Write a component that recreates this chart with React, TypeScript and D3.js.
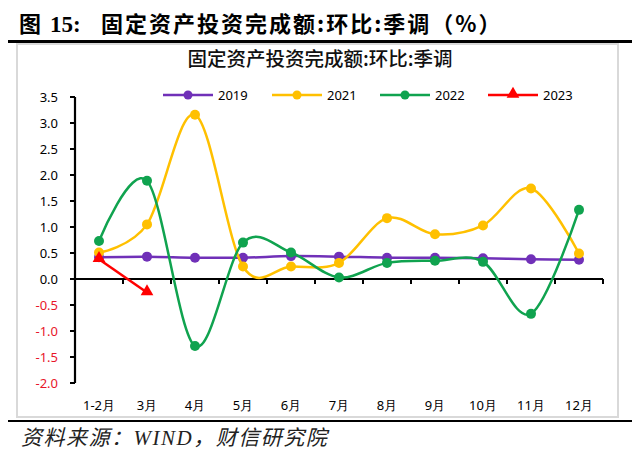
import React from "react";
import * as d3 from "d3";

const categories = ["1-2月", "3月", "4月", "5月", "6月", "7月", "8月", "9月", "10月", "11月", "12月"];
const s2019 = [0.42, 0.43, 0.41, 0.41, 0.44, 0.43, 0.41, 0.41, 0.40, 0.38, 0.37];
const s2021 = [0.51, 1.05, 3.16, 0.24, 0.24, 0.31, 1.17, 0.86, 1.03, 1.74, 0.49];
const s2022 = [0.73, 1.89, -1.29, 0.70, 0.51, 0.03, 0.31, 0.35, 0.33, -0.67, 1.33];
const s2023 = [0.38, -0.26];
const yTicks = [3.5, 3.0, 2.5, 2.0, 1.5, 1.0, 0.5, 0.0, -0.5, -1.0, -1.5, -2.0];

const seriesList = [
  { name: "2019", values: s2019, color: "#7030b8", marker: "circle", smooth: true },
  { name: "2021", values: s2021, color: "#ffc000", marker: "circle", smooth: true },
  { name: "2022", values: s2022, color: "#10a34f", marker: "circle", smooth: true },
  { name: "2023", values: s2023, color: "#ff0000", marker: "triangle", smooth: false },
];

export default function App() {
  const W = 640, H = 454;
  const x0 = 75, x1 = 603, yTop = 97, yBot = 383;
  const x = d3.scaleBand<string>().domain(categories).range([x0, x1]);
  const y = d3.scaleLinear().domain([-2, 3.5]).range([yBot, yTop]);
  const cx = (i: number) => (x(categories[i]) as number) + x.bandwidth() / 2;
  const tickFont = "'Noto Sans', 'Liberation Sans', sans-serif";
  const cjk = "'Noto Sans CJK SC', sans-serif";
  const tri = d3.symbol().type(d3.symbolTriangle).size(70);

  const legendX = [163, 272, 380, 488];

  return (
    <svg width={W} height={H} style={{ position: "absolute", left: 0, top: 0, background: "#fff" }}>
      <rect x={0} y={0} width={W} height={H} fill="#fff" />
      {/* heading */}
      <text y={32} fontSize={22} fontWeight="bold" fontFamily={cjk} fill="#000">
        <tspan x={19}>图</tspan>
        <tspan x={50} fontFamily="'Liberation Serif', serif" fontSize={23}>15:</tspan>
        <tspan x={101} letterSpacing={2}>固定资产投资完成额:环比:季调（%）</tspan>
      </text>
      <line x1={8} x2={632} y1={41.5} y2={41.5} stroke="#000" strokeWidth={3} />
      {/* frame */}
      <rect x={17} y={44} width={601} height={373} fill="#fff" stroke="#d9d9d9" strokeWidth={2} />
      <text x={320} y={66} textAnchor="middle" fontSize={19.5} fontFamily={cjk} fontWeight={500} fill="#111">
        固定资产投资完成额:环比:季调
      </text>
      {/* legend */}
      {seriesList.map((s, i) => (
        <g key={s.name}>
          <line x1={legendX[i]} x2={legendX[i] + 50} y1={95} y2={95} stroke={s.color} strokeWidth={2.5} />
          {s.marker === "circle" ? (
            <circle cx={legendX[i] + 25} cy={95} r={4.5} fill={s.color} />
          ) : (
            <path d={tri() as string} transform={`translate(${legendX[i] + 25},94)`} fill={s.color} />
          )}
          <text x={legendX[i] + 55} y={100} fontSize={13} fontFamily={tickFont} fill="#000">{s.name}</text>
        </g>
      ))}
      {/* y axis */}
      <line x1={x0} x2={x0} y1={yTop} y2={yBot} stroke="#000" strokeWidth={2.2} />
      {yTicks.map((t) => (
        <g key={t}>
          <line x1={x0 - 5} x2={x0} y1={y(t)} y2={y(t)} stroke="#000" strokeWidth={2} />
          <text x={58} y={y(t) + 4.5} textAnchor="end" fontSize={13} fontFamily={tickFont} fill={t < 0 ? "#e8162a" : "#000"}>
            {t.toFixed(1)}
          </text>
        </g>
      ))}
      {/* x axis */}
      <line x1={x0} x2={x1} y1={y(0)} y2={y(0)} stroke="#000" strokeWidth={2.2} />
      {categories.map((c, i) => (
        <g key={c}>
          <line x1={(x(c) as number) + x.bandwidth()} x2={(x(c) as number) + x.bandwidth()} y1={y(0)} y2={y(0) + 5} stroke="#000" strokeWidth={2} />
          <text x={cx(i)} y={410} textAnchor="middle" fontSize={13} fontFamily={tickFont} fill="#000">{c}</text>
        </g>
      ))}
      {/* series */}
      {seriesList.map((s) => {
        const gen = d3
          .line<number>()
          .x((_, i) => cx(i))
          .y((v) => y(v))
          .curve(s.smooth ? d3.curveCardinal.tension(0) : d3.curveLinear);
        return (
          <g key={s.name}>
            <path d={gen(s.values) as string} fill="none" stroke={s.color} strokeWidth={2.5} />
            {s.values.map((v, i) =>
              s.marker === "circle" ? (
                <circle key={i} cx={cx(i)} cy={y(v)} r={5} fill={s.color} />
              ) : (
                <path key={i} d={tri() as string} transform={`translate(${cx(i)},${y(v) - 1})`} fill={s.color} />
              )
            )}
          </g>
        );
      })}
      {/* footer */}
      <line x1={8} x2={632} y1={421} y2={421} stroke="#000" strokeWidth={2} />
      <text x={21} y={445} fontSize={21} fontStyle="italic" fontFamily={cjk} fill="#222" letterSpacing={1.5}>
        <tspan>资料来源：</tspan>
        <tspan fontFamily="'Liberation Serif', serif">WIND</tspan>
        <tspan>，财信研究院</tspan>
      </text>
    </svg>
  );
}
